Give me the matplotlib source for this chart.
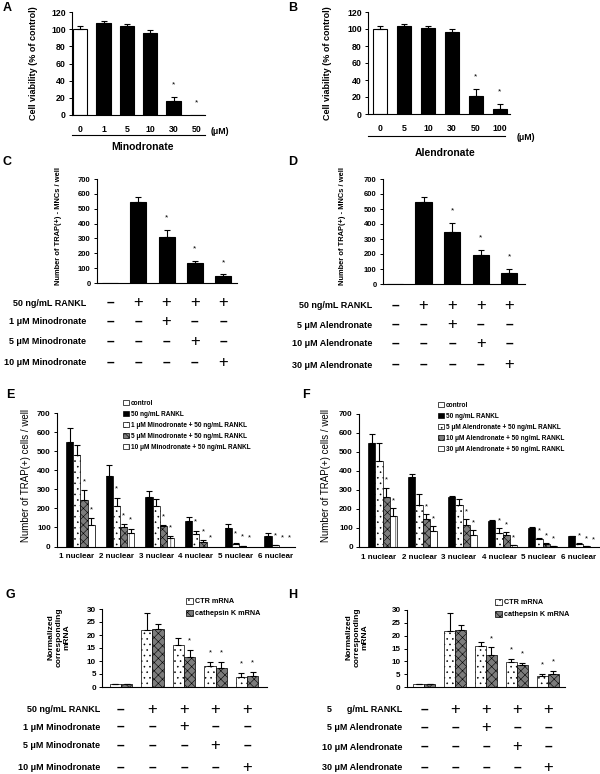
import matplotlib
matplotlib.use('Agg')
import matplotlib.pyplot as plt
import numpy as np
from matplotlib.lines import Line2D
from matplotlib.patches import Patch
import matplotlib.transforms as mtransforms

plt.rcParams['font.family'] = ['Liberation Sans', 'DejaVu Sans']
plt.rcParams['hatch.linewidth'] = 0.4

# ---------------- data ----------------
# A: cell viability, minodronate
a_labels = ['0', '1', '5', '10', '30', '50']
a_vals = [100, 107, 104, 96, 16, 0]
a_err = [4, 3, 2, 3, 5, 0]
a_sig = [False, False, False, False, True, True]

# B: cell viability, alendronate
b_labels = ['0', '5', '10', '30', '50', '100']
b_vals = [100, 103, 101, 96, 21, 6]
b_err = [3, 3, 3, 4, 9, 6]
b_sig = [False, False, False, False, True, True]

# C: TRAP(+) MNCs, minodronate
c_vals = [0, 545, 310, 132, 48]
c_err = [0, 34, 50, 17, 10]
c_sig = [False, False, True, True, True]
c_rows = ['50 ng/mL RANKL', '1 μM Minodronate', '5 μM Minodronate', '10 μM Minodronate']
c_table = ['-++++', '--+--', '---+-', '----+']

# D: TRAP(+) MNCs, alendronate
d_vals = [0, 545, 350, 196, 76]
d_err = [0, 37, 55, 33, 22]
d_sig = [False, False, True, True, True]
d_rows = ['50 ng/mL RANKL', '5 μM Alendronate', '10 μM Alendronate', '30 μM Alendronate']
d_table = ['-++++', '--+--', '---+-', '----+']

# E: TRAP(+) cells by nuclear count, minodronate
nuc_cats = ['1 nuclear', '2 nuclear', '3 nuclear', '4 nuclear', '5 nuclear', '6 nuclear']
e_labels = ['control', '50 ng/mL RANKL', '1 μM Minodronate + 50 ng/mL RANKL',
            '5 μM Minodronate + 50 ng/mL RANKL', '10 μM Minodronate + 50 ng/mL RANKL']
e_control = [0, 0, 0, 0, 0, 0]
e_control_err = [0, 0, 0, 0, 0, 0]
e_rankl = [548, 368, 260, 133, 97, 53]
e_rankl_err = [75, 57, 32, 20, 20, 18]
e_m1 = [482, 210, 212, 67, 15, 7]
e_m1_err = [52, 45, 35, 15, 4, 2]
e_m1_sig = [False, True, False, True, True, True]
e_m5 = [242, 102, 107, 25, 3, 0]
e_m5_err = [53, 15, 5, 8, 1, 0]
e_m5_sig = [True, True, True, True, True, True]
e_m10 = [115, 70, 47, 0, 0, 0]
e_m10_err = [32, 22, 7, 0, 0, 0]
e_m10_sig = [True, True, True, True, True, True]

# F: TRAP(+) cells by nuclear count, alendronate
f_labels = ['control', '50 ng/mL RANKL', '5 μM Alendronate + 50 ng/mL RANKL',
            '10 μM Alendronate + 50 ng/mL RANKL', '30 μM Alendronate + 50 ng/mL RANKL']
f_control = [0, 0, 0, 0, 0, 0]
f_control_err = [0, 0, 0, 0, 0, 0]
f_rankl = [547, 368, 261, 135, 100, 54]
f_rankl_err = [46, 18, 5, 5, 6, 3]
f_a5 = [451, 218, 218, 74, 38, 16]
f_a5_err = [96, 61, 33, 25, 10, 3]
f_a5_sig = [False, False, False, True, True, True]
f_a10 = [260, 144, 116, 61, 16, 4]
f_a10_err = [52, 26, 30, 15, 5, 1]
f_a10_sig = [True, True, True, True, True, True]
f_a30 = [160, 84, 63, 8, 2, 0]
f_a30_err = [42, 25, 23, 2, 1, 0]
f_a30_sig = [True, True, True, True, True, True]

# G: mRNA, minodronate
mrna_labels = ['CTR mRNA', 'cathepsin K mRNA']
g_ctr = [1.0, 22.0, 16.2, 8.0, 3.8]
g_ctr_err = [0.2, 6.6, 2.7, 1.5, 1.6]
g_ctr_sig = [False, False, False, True, True]
g_cat = [1.0, 22.3, 11.6, 7.5, 4.4]
g_cat_err = [0.2, 1.8, 2.8, 2.3, 1.5]
g_cat_sig = [False, False, True, True, True]
g_rows = ['50 ng/mL RANKL', '1 μM Minodronate', '5 μM Minodronate', '10 μM Minodronate']
g_table = ['-++++', '--+--', '---+-', '----+']

# H: mRNA, alendronate
h_ctr = [1.0, 22.0, 16.0, 9.8, 4.2]
h_ctr_err = [0.2, 7.0, 1.7, 1.3, 1.0]
h_ctr_sig = [False, False, False, True, True]
h_cat = [1.0, 22.3, 12.5, 8.4, 5.0]
h_cat_err = [0.2, 1.9, 2.9, 0.9, 1.1]
h_cat_sig = [False, False, True, True, True]
h_rows = ['5      g/mL RANKL', '5 μM Alendronate', '10 μM Alendronate', '30 μM Alendronate']
h_table = ['-++++', '--+--', '---+-', '----+']

# ---------------- layout helpers ----------------
W, H = 600, 774
fig = plt.figure(figsize=(6, 7.74), dpi=100)
fig.patch.set_facecolor('white')

GRAY = '#7c7c7c'


def fx(x):
    return x / W


def fy(y):
    return 1 - y / H


def add_ax(l, t, r, b):
    return fig.add_axes([l / W, 1 - b / H, (r - l) / W, (b - t) / H])


def style(ax, ylim, yticks, lsize):
    ax.set_ylim(*ylim)
    ax.set_yticks(yticks)
    for s in ['top', 'right']:
        ax.spines[s].set_visible(False)
    for s in ['left', 'bottom']:
        ax.spines[s].set_linewidth(0.8)
    ax.tick_params(axis='y', direction='out', length=2.5, width=0.7, pad=2, labelsize=lsize)
    ax.tick_params(axis='x', length=0, labelsize=lsize)
    for t in ax.get_yticklabels() + ax.get_xticklabels():
        t.set_fontweight('bold')


def errs(ax, x, vals, err, capsize=2.5):
    x = np.asarray(x, float)
    v = np.asarray(vals, float)
    e = np.asarray(err, float)
    m = e > 0
    ax.errorbar(x[m], v[m], yerr=[np.zeros(m.sum()), e[m]], fmt='none', ecolor='black',
                elinewidth=0.8, capsize=capsize, capthick=0.8)


def stars(ax, x, vals, err, sig, off, size=6):
    for xi, v, e, s in zip(x, vals, err, sig):
        if s:
            ax.text(xi, v + e + off, '*', ha='center', va='center', fontsize=size)


def panel_letter(x, y, s):
    fig.text(fx(x), fy(y), s, ha='center', va='center', fontsize=9, fontweight='bold')


def table(ax, rows, table_rows, label_x, row_ys, lsize=6.5):
    tr = mtransforms.blended_transform_factory(ax.transData, fig.transFigure)
    for lab, pattern, y in zip(rows, table_rows, row_ys):
        fig.text(fx(label_x), fy(y), lab, ha='right', va='center', fontsize=lsize, fontweight='bold')
        for i, ch in enumerate(pattern):
            if ch == '+':
                ax.text(i, fy(y) + 0.001, '+', transform=tr, ha='center', va='center',
                        fontsize=12, clip_on=False)
            else:
                ax.text(i, fy(y), '–', transform=tr, ha='center', va='center',
                        fontsize=10, fontweight='bold', clip_on=False)


# ---------------- A / B ----------------
def viability(box, labels, vals, err, sig, xlim, width, line, unit_pos, name, name_pos, ylab_x):
    ax = add_ax(*box)
    x = np.arange(len(vals))
    colors = ['white'] + ['black'] * (len(vals) - 1)
    ax.bar(x, vals, width=width, color=colors, edgecolor='black', linewidth=0.8)
    errs(ax, x, vals, err)
    stars(ax, x, vals, err, sig, 14)
    ax.set_xlim(*xlim)
    ax.set_xticks(x, labels)
    style(ax, (0, 120), np.arange(0, 121, 20), 6.3)
    ax.tick_params(axis='x', pad=7)
    fig.add_artist(Line2D([fx(line[0]), fx(line[1])], [fy(line[2]), fy(line[2])],
                          color='black', lw=0.8))
    fig.text(fx(unit_pos[0]), fy(unit_pos[1]), '(μM)', ha='center', va='center',
             fontsize=6.3, fontweight='bold')
    fig.text(fx(name_pos[0]), fy(name_pos[1]), name, ha='center', va='center',
             fontsize=7.5, fontweight='bold')
    fig.text(fx(ylab_x), fy((box[1] + box[3]) / 2), 'Cell viability (% of control)', rotation=90,
             ha='center', va='center', fontsize=6.5, fontweight='bold')
    return ax


viability((72, 12, 205, 115), a_labels, a_vals, a_err, a_sig, (-0.35, 5.35), 0.62,
          (72, 205, 135), (220, 131), 'Minodronate', (143, 147), 33)
viability((368, 12, 510, 114), b_labels, b_vals, b_err, b_sig, (-0.5, 5.42), 0.6,
          (368, 505, 136), (526, 137), 'Alendronate', (445, 153), 327)
panel_letter(7, 8, 'A')
panel_letter(293, 8, 'B')


# ---------------- C / D ----------------
def mncs(box, vals, err, sig, xlim, rows, tab, label_x, row_ys, ylab_x):
    ax = add_ax(*box)
    x = np.arange(len(vals))
    ax.bar(x, vals, width=0.57, color='black', edgecolor='black', linewidth=0.8)
    errs(ax, x, vals, err)
    stars(ax, x, vals, err, sig, 80)
    ax.set_xlim(*xlim)
    ax.set_xticks([])
    style(ax, (0, 700), np.arange(0, 701, 100), 5.5)
    fig.text(fx(ylab_x), fy(226), 'Number of TRAP(+) - MNCs / well', rotation=90,
             ha='center', va='center', fontsize=5.4, fontweight='bold')
    table(ax, rows, tab, label_x, row_ys)
    return ax


mncs((97, 179, 237, 283), c_vals, c_err, c_sig, (-0.46, 4.49), c_rows, c_table, 86,
     [303, 322, 342, 363], 58)
mncs((383, 179, 525, 284), d_vals, d_err, d_sig, (-0.42, 4.55), d_rows, d_table, 372,
     [306, 325, 344, 365], 343)
panel_letter(7, 162, 'C')
panel_letter(293, 162, 'D')

# ---------------- E / F ----------------
styles5 = [dict(color='white', hatch=None),
           dict(color='black', hatch=None),
           dict(color='white', hatch='...'),
           dict(color=GRAY, hatch='xxxx'),
           dict(color='white', hatch='||')]


def nuclear(box, series, errs_list, sigs, labels, legend_anchor, ylab_x, star_off):
    ax = add_ax(*box)
    x = np.arange(len(nuc_cats))
    w = 0.18
    for k, (vals, err, sig, st) in enumerate(zip(series, errs_list, sigs, styles5)):
        xs = x + (k - 2) * w
        ax.bar(xs, vals, width=w, color=st['color'], hatch=st['hatch'], edgecolor='black',
               linewidth=0.5)
        errs(ax, xs, vals, err, capsize=2.2)
        stars(ax, xs, vals, err, sig, star_off, size=5.5)
    ax.set_xlim(-0.5, 5.5)
    ax.set_xticks(x, nuc_cats)
    style(ax, (0, 700), np.arange(0, 701, 100), 5.8)
    ax.tick_params(axis='x', pad=5)
    handles = [Patch(facecolor=st['color'], hatch=st['hatch'], edgecolor='black', linewidth=0.5)
               for st in styles5]
    fig.legend(handles, labels, loc='upper left', bbox_to_anchor=(fx(legend_anchor[0]), fy(legend_anchor[1])),
               frameon=False, prop={'size': 4.7, 'weight': 'bold'}, handlelength=0.9,
               handleheight=0.9, handletextpad=0.3, labelspacing=0.6, borderpad=0, borderaxespad=0)
    fig.text(fx(ylab_x), fy(476), 'Number of TRAP(+) cells / well', rotation=90,
             ha='center', va='center', fontsize=7)
    return ax


nuclear((57, 413, 295, 546.5), [e_control, e_rankl, e_m1, e_m5, e_m10],
        [e_control_err, e_rankl_err, e_m1_err, e_m5_err, e_m10_err],
        [[False] * 6, [False] * 6, e_m1_sig, e_m5_sig, e_m10_sig], e_labels, (123, 400), 26, 45)
nuclear((359, 414, 599, 546.7), [f_control, f_rankl, f_a5, f_a10, f_a30],
        [f_control_err, f_rankl_err, f_a5_err, f_a10_err, f_a30_err],
        [[False] * 6, [False] * 6, f_a5_sig, f_a10_sig, f_a30_sig], f_labels, (438, 402), 326, 38)
panel_letter(10, 395, 'E')
panel_letter(306, 395, 'F')

# ---------------- G / H ----------------
styles2 = [dict(color='white', hatch='...'), dict(color=GRAY, hatch='xxxx')]


def mrna(box, xlim, w, ctr, ctr_err, ctr_sig, cat, cat_err, cat_sig, rows, tab, label_x, row_ys,
         legend_anchor, ylab_x):
    ax = add_ax(*box)
    x = np.arange(len(ctr))
    for k, (vals, err, sig, st) in enumerate(zip([ctr, cat], [ctr_err, cat_err], [ctr_sig, cat_sig], styles2)):
        xs = x + (k - 0.5) * w
        ax.bar(xs, vals, width=w, color=st['color'], hatch=st['hatch'], edgecolor='black', linewidth=0.5)
        errs(ax, xs, vals, err, capsize=2.5)
        stars(ax, xs, vals, err, sig, 3.5, size=5.5)
    ax.set_xlim(*xlim)
    ax.set_xticks([])
    style(ax, (0, 30), np.arange(0, 31, 5), 5.8)
    handles = [Patch(facecolor=st['color'], hatch=st['hatch'], edgecolor='black', linewidth=0.5)
               for st in styles2]
    fig.legend(handles, mrna_labels, loc='upper left', bbox_to_anchor=(fx(legend_anchor[0]), fy(legend_anchor[1])),
               frameon=False, prop={'size': 5.2, 'weight': 'bold'}, handlelength=0.9,
               handleheight=0.9, handletextpad=0.3, labelspacing=0.6, borderpad=0, borderaxespad=0)
    fig.text(fx(ylab_x), fy(637), 'Normalized\ncorresponding\nmRNA', rotation=90, ha='center',
             va='center', fontsize=6, fontweight='bold', linespacing=1.2, multialignment='center')
    table(ax, rows, tab, label_x, row_ys)
    return ax


mrna((102, 609, 267, 687), (-0.6, 4.63), 0.36, g_ctr, g_ctr_err, g_ctr_sig, g_cat, g_cat_err, g_cat_sig,
     g_rows, g_table, 100, [710, 727, 746, 768], (186, 598), 59)
mrna((407, 610, 565, 687), (-0.55, 4.55), 0.355, h_ctr, h_ctr_err, h_ctr_sig, h_cat, h_cat_err, h_cat_sig,
     h_rows, h_table, 402, [710, 728, 747, 768], (495, 599), 357)
panel_letter(10, 595, 'G')
panel_letter(293, 595, 'H')

fig.savefig('out.png', dpi=100, facecolor='white')
